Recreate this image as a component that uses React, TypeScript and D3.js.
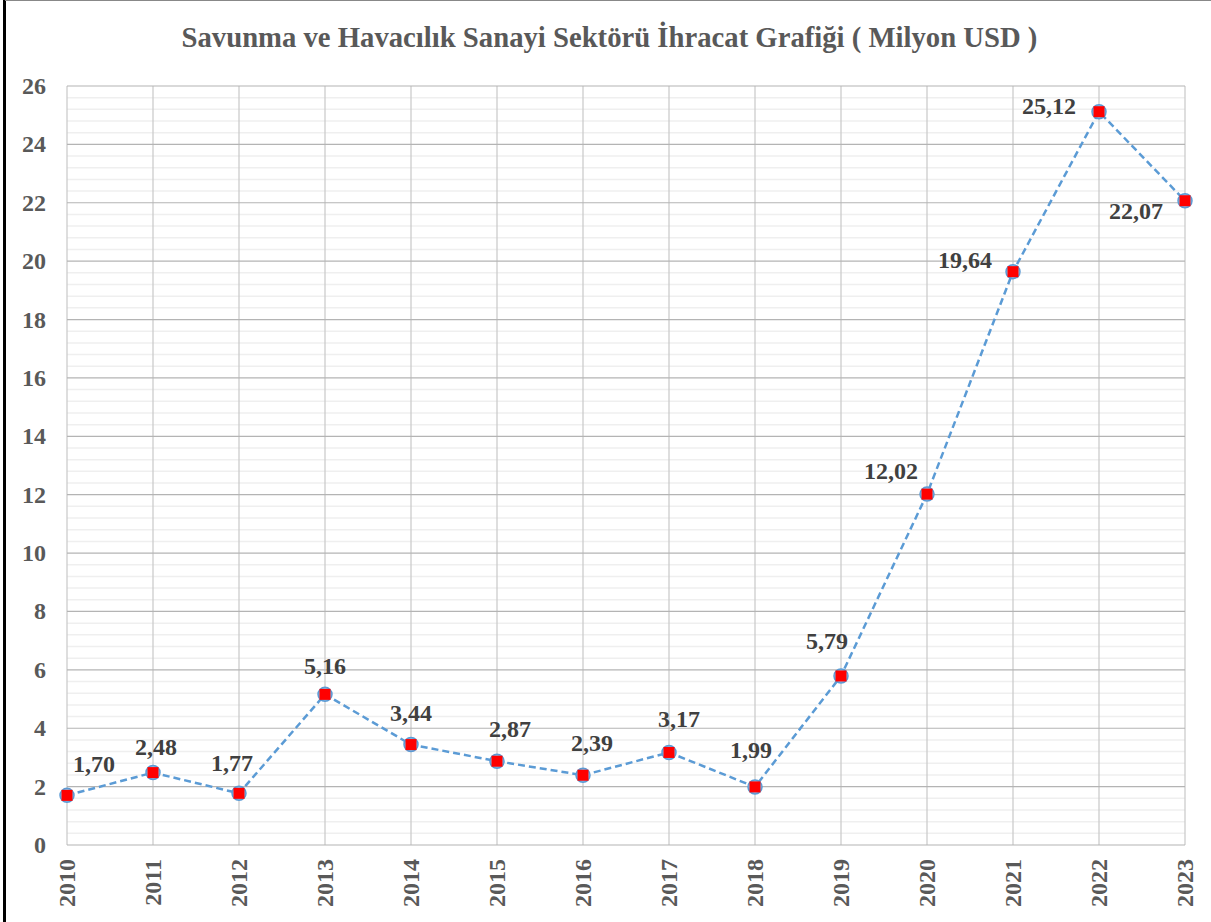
import React from "react";
import * as d3 from "d3";

const years = ["2010","2011","2012","2013","2014","2015","2016","2017","2018","2019","2020","2021","2022","2023"];
const values = [1.70, 2.48, 1.77, 5.16, 3.44, 2.87, 2.39, 3.17, 1.99, 5.79, 12.02, 19.64, 25.12, 22.07];
const labels = ["1,70","2,48","1,77","5,16","3,44","2,87","2,39","3,17","1,99","5,79","12,02","19,64","25,12","22,07"];
// label placement: dx (center), dy (baseline) offsets relative to point, in px
const labelPos: [number, number][] = [
  [27, -23], [3, -18], [-7, -22], [0, -20], [0, -24], [13, -24], [9, -24], [10, -25], [-4, -29],
  [-14, -27], [-36, -15], [-48, -4], [-50, 2], [-49, 18],
];
const yTicks = [0, 2, 4, 6, 8, 10, 12, 14, 16, 18, 20, 22, 24, 26];
const title = "Savunma ve Havacılık Sanayi Sektörü İhracat Grafiği ( Milyon USD )";

const font = "Liberation Serif, Times New Roman, DejaVu Serif, serif";

export default function App() {
  const W = 1211, H = 922;
  const x = d3.scalePoint<string>().domain(years).range([67, 1185]);
  const y = d3.scaleLinear().domain([0, 26]).range([845, 86]);
  const minor = d3.range(0, 26.001, 0.4).filter((v) => Math.abs(v / 2 - Math.round(v / 2)) > 0.01);
  const line = d3.line<number>().x((_, i) => x(years[i])!).y((d) => y(d));
  const ts = { fontFamily: font, fontWeight: 700 } as React.CSSProperties;
  return (
    <svg width={W} height={H} style={{ position: "absolute", left: 0, top: 0, background: "#fff" }}>
      <line x1={4.5} x2={4.5} y1={0} y2={H} stroke="#000" strokeWidth={3} />
      <line x1={5} x2={W} y1={0.5} y2={0.5} stroke="#888" strokeWidth={1} />
      <text x={609.5} y={47} textAnchor="middle" fontSize={28.7} fill="#595959" style={ts}>{title}</text>
      {minor.map((v) => (
        <line key={"m" + v} x1={67} x2={1185} y1={y(v)} y2={y(v)} stroke="#efefef" strokeWidth={1.5} />
      ))}
      {years.map((yr) => (
        <line key={"v" + yr} x1={x(yr)} x2={x(yr)} y1={86} y2={845} stroke="#c8c8c8" strokeWidth={1.2} />
      ))}
      {yTicks.map((t) => (
        <line key={"g" + t} x1={67} x2={1185} y1={y(t)} y2={y(t)} stroke="#b4b4b4" strokeWidth={1.2} />
      ))}
      {yTicks.map((t) => (
        <text key={"t" + t} x={46} y={y(t) + 8} textAnchor="end" fontSize={24} fill="#595959" style={ts}>{t}</text>
      ))}
      {years.map((yr) => (
        <text key={"x" + yr} transform={`translate(${x(yr)! + 8},859) rotate(-90)`} textAnchor="end" fontSize={24} fill="#595959" style={ts}>{yr}</text>
      ))}
      <path d={line(values)!} fill="none" stroke="#5b9bd5" strokeWidth={2.5} strokeDasharray="7,4" />
      {values.map((v, i) => (
        <g key={"p" + i} transform={`translate(${x(years[i])},${y(v)})`}>
          <circle r={7} fill="#8fbbe3" stroke="#5b9bd5" strokeWidth={1.5} />
          <rect x={-5.5} y={-5.5} width={11} height={11} fill="#ff0000" />
        </g>
      ))}
      {values.map((v, i) => (
        <text key={"l" + i} x={x(years[i])! + labelPos[i][0]} y={y(v) + labelPos[i][1]} textAnchor="middle" fontSize={24} fill="#404040" style={ts}>{labels[i]}</text>
      ))}
    </svg>
  );
}
